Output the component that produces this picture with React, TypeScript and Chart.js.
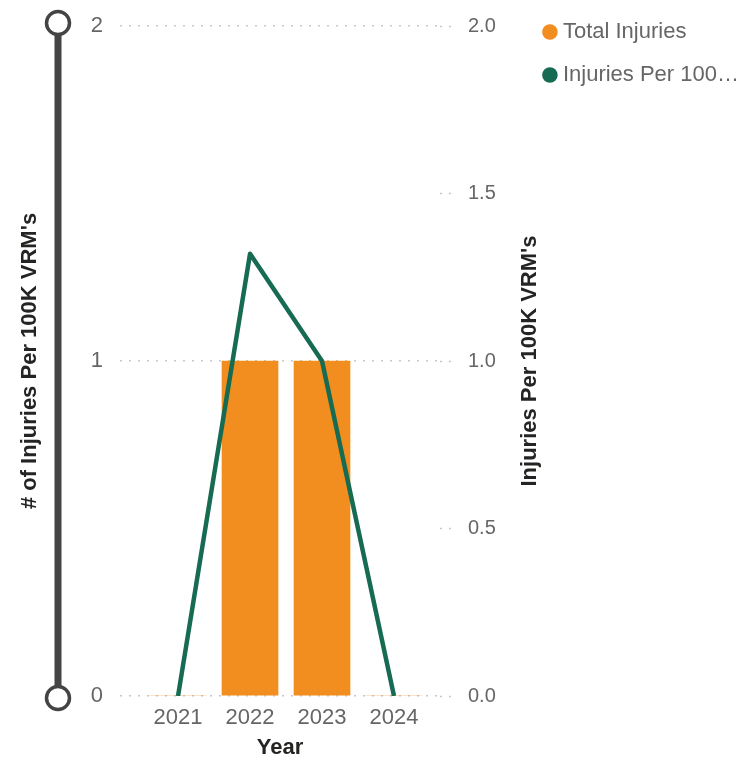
import React, { useEffect, useRef } from "react";
import { Chart, registerables } from "chart.js";

Chart.register(...registerables);

// Yearly injury figures
const years = [2021, 2022, 2023, 2024];
const yearLabels = ["2021", "2022", "2023", "2024"];
const totalInjuries = [0, 1, 1, 0];
const injuriesPer100K = [0, 1.32, 1.0, 0];

// Axis ticks
const leftTicks = [0, 1, 2];
const rightTicks = [0, 0.5, 1, 1.5, 2];

const ORANGE = "#F28E1F";
const GREEN = "#176B52";
const GRID = "#C8C8C8";
const TICK_TEXT = "#666666";
const TITLE_TEXT = "#252423";
const SLIDER = "#444444";
const FONT = "'Liberation Sans', Arial, sans-serif";

// Plot-area geometry
const PLOT_LEFT = 120;
const PLOT_RIGHT = 440;
const PLOT_TOP = 26;
const X_AXIS_HEIGHT = 61;
const X_MIN = 2020.194;
const X_MAX = 2024.639;

const truncate = (s: string, n: number) => (s.length > n ? s.slice(0, n) + "\u2026" : s);

// Zoom-slider look on the left value axis
const sliderPlugin = {
  id: "valueSlider",
  afterDraw(chart: any) {
    const y = chart.scales.y;
    const ctx = chart.ctx;
    const x = 58;
    const top = y.getPixelForValue(y.max) - 3;
    const bottom = y.getPixelForValue(y.min) + 2;
    const r = 11.5;
    ctx.save();
    ctx.strokeStyle = SLIDER;
    ctx.lineWidth = 7;
    ctx.beginPath();
    ctx.moveTo(x, top + r);
    ctx.lineTo(x, bottom - r);
    ctx.stroke();
    ctx.lineWidth = 3.5;
    ctx.fillStyle = "#ffffff";
    for (const cy of [top, bottom]) {
      ctx.beginPath();
      ctx.arc(x, cy, r, 0, Math.PI * 2);
      ctx.fill();
      ctx.stroke();
    }
    ctx.restore();
  },
};

// Secondary-axis title, read bottom-to-top like the primary one
const rightTitlePlugin = {
  id: "rightTitle",
  afterDraw(chart: any) {
    const s = chart.scales.y1;
    const ctx = chart.ctx;
    const text = s.options.title.text;
    ctx.save();
    ctx.translate(s.right + 3, (s.top + s.bottom) / 2);
    ctx.rotate(-Math.PI / 2);
    ctx.font = `bold 22px ${FONT}`;
    ctx.fillStyle = TITLE_TEXT;
    ctx.textAlign = "center";
    ctx.textBaseline = "middle";
    ctx.fillText(text, 0, 0);
    ctx.restore();
  },
};

export default function App() {
  const canvasRef = useRef<HTMLCanvasElement | null>(null);

  useEffect(() => {
    const canvas = canvasRef.current;
    if (!canvas) return;

    const chart = new Chart(canvas, {
      type: "bar",
      data: {
        datasets: [
          {
            type: "bar",
            label: "Total Injuries",
            data: years.map((x, i) => ({ x, y: totalInjuries[i] })),
            backgroundColor: ORANGE,
            borderWidth: 0,
            barThickness: 56,
            xAxisID: "x",
            yAxisID: "y",
            order: 2,
          },
          {
            type: "line",
            label: "Injuries Per 100K VRM's",
            data: years.map((x, i) => ({ x, y: injuriesPer100K[i] })),
            borderColor: GREEN,
            backgroundColor: GREEN,
            borderWidth: 4.5,
            borderJoinStyle: "round",
            pointRadius: 0,
            tension: 0,
            fill: false,
            xAxisID: "x",
            yAxisID: "y1",
            order: 1,
          },
        ] as any,
      },
      options: {
        responsive: true,
        maintainAspectRatio: false,
        animation: false,
        layout: { padding: 0 },
        plugins: {
          tooltip: { enabled: false },
          legend: {
            position: "right",
            align: "start",
            maxWidth: 260,
            labels: {
              usePointStyle: true,
              boxWidth: 4,
              boxHeight: 11,
              padding: 21,
              color: TICK_TEXT,
              font: { family: FONT, size: 22 },
              sort: (a: any, b: any) => a.datasetIndex - b.datasetIndex,
              generateLabels: (c: any) =>
                Chart.defaults.plugins.legend.labels.generateLabels(c).map((item: any) => ({
                  ...item,
                  text: truncate(item.text, 16),
                  pointStyle: "circle",
                  lineWidth: 0,
                  strokeStyle: item.fillStyle,
                })),
            },
          },
        },
        scales: {
          x: {
            type: "linear",
            position: "bottom",
            offset: false,
            min: X_MIN,
            max: X_MAX,
            grid: { display: false, drawTicks: false, offset: false },
            border: { display: false },
            afterBuildTicks: (s: any) => {
              s.ticks = years.map((v) => ({ value: v }));
            },
            afterFit: (s: any) => {
              s.height = X_AXIS_HEIGHT;
            },
            ticks: {
              autoSkip: false,
              padding: 9,
              color: TICK_TEXT,
              font: { family: FONT, size: 22 },
              callback: (v: any) => yearLabels[years.indexOf(Number(v))] ?? "",
            },
            title: {
              display: true,
              text: "Year",
              color: TITLE_TEXT,
              font: { family: FONT, size: 22, weight: "bold" },
              padding: { top: 0, bottom: -4 },
            },
          },
          y: {
            type: "linear",
            position: "left",
            min: 0,
            max: 2,
            afterBuildTicks: (s: any) => {
              s.ticks = leftTicks.map((v) => ({ value: v }));
            },
            afterFit: (s: any) => {
              s.width = PLOT_LEFT;
              s.paddingTop = PLOT_TOP;
            },
            grid: { color: GRID, lineWidth: 1.5, drawTicks: false },
            border: { display: false, dash: [2, 7] },
            ticks: {
              padding: 17,
              color: TICK_TEXT,
              font: { family: FONT, size: 22 },
              callback: (v: any) => String(v),
            },
            title: {
              display: true,
              text: "# of Injuries Per 100K VRM's",
              color: TITLE_TEXT,
              font: { family: FONT, size: 22, weight: "bold" },
              padding: { top: 17, bottom: 0 },
            },
          },
          y1: {
            type: "linear",
            position: "right",
            min: 0,
            max: 2,
            afterBuildTicks: (s: any) => {
              s.ticks = rightTicks.map((v) => ({ value: v }));
            },
            afterFit: (s: any) => {
              const legendWidth = s.chart.legend ? s.chart.legend.width : 0;
              s.width = s.chart.width - legendWidth - PLOT_RIGHT;
              s.paddingTop = PLOT_TOP;
            },
            grid: {
              drawOnChartArea: false,
              drawTicks: true,
              tickLength: 16,
              tickColor: GRID,
              tickWidth: 1.5,
              tickBorderDash: [2, 7],
            },
            border: { display: false },
            ticks: {
              padding: 12,
              color: TICK_TEXT,
              font: { family: FONT, size: 20 },
              callback: (v: any) => Number(v).toFixed(1),
            },
            title: {
              display: false,
              text: "Injuries Per 100K VRM's",
            },
          },
        },
      } as any,
      plugins: [sliderPlugin, rightTitlePlugin],
    });

    return () => chart.destroy();
  }, []);

  return (
    <div
      style={{
        position: "fixed",
        left: 0,
        top: 0,
        width: 749,
        height: 757,
        background: "#ffffff",
      }}
    >
      <canvas ref={canvasRef} />
    </div>
  );
}
